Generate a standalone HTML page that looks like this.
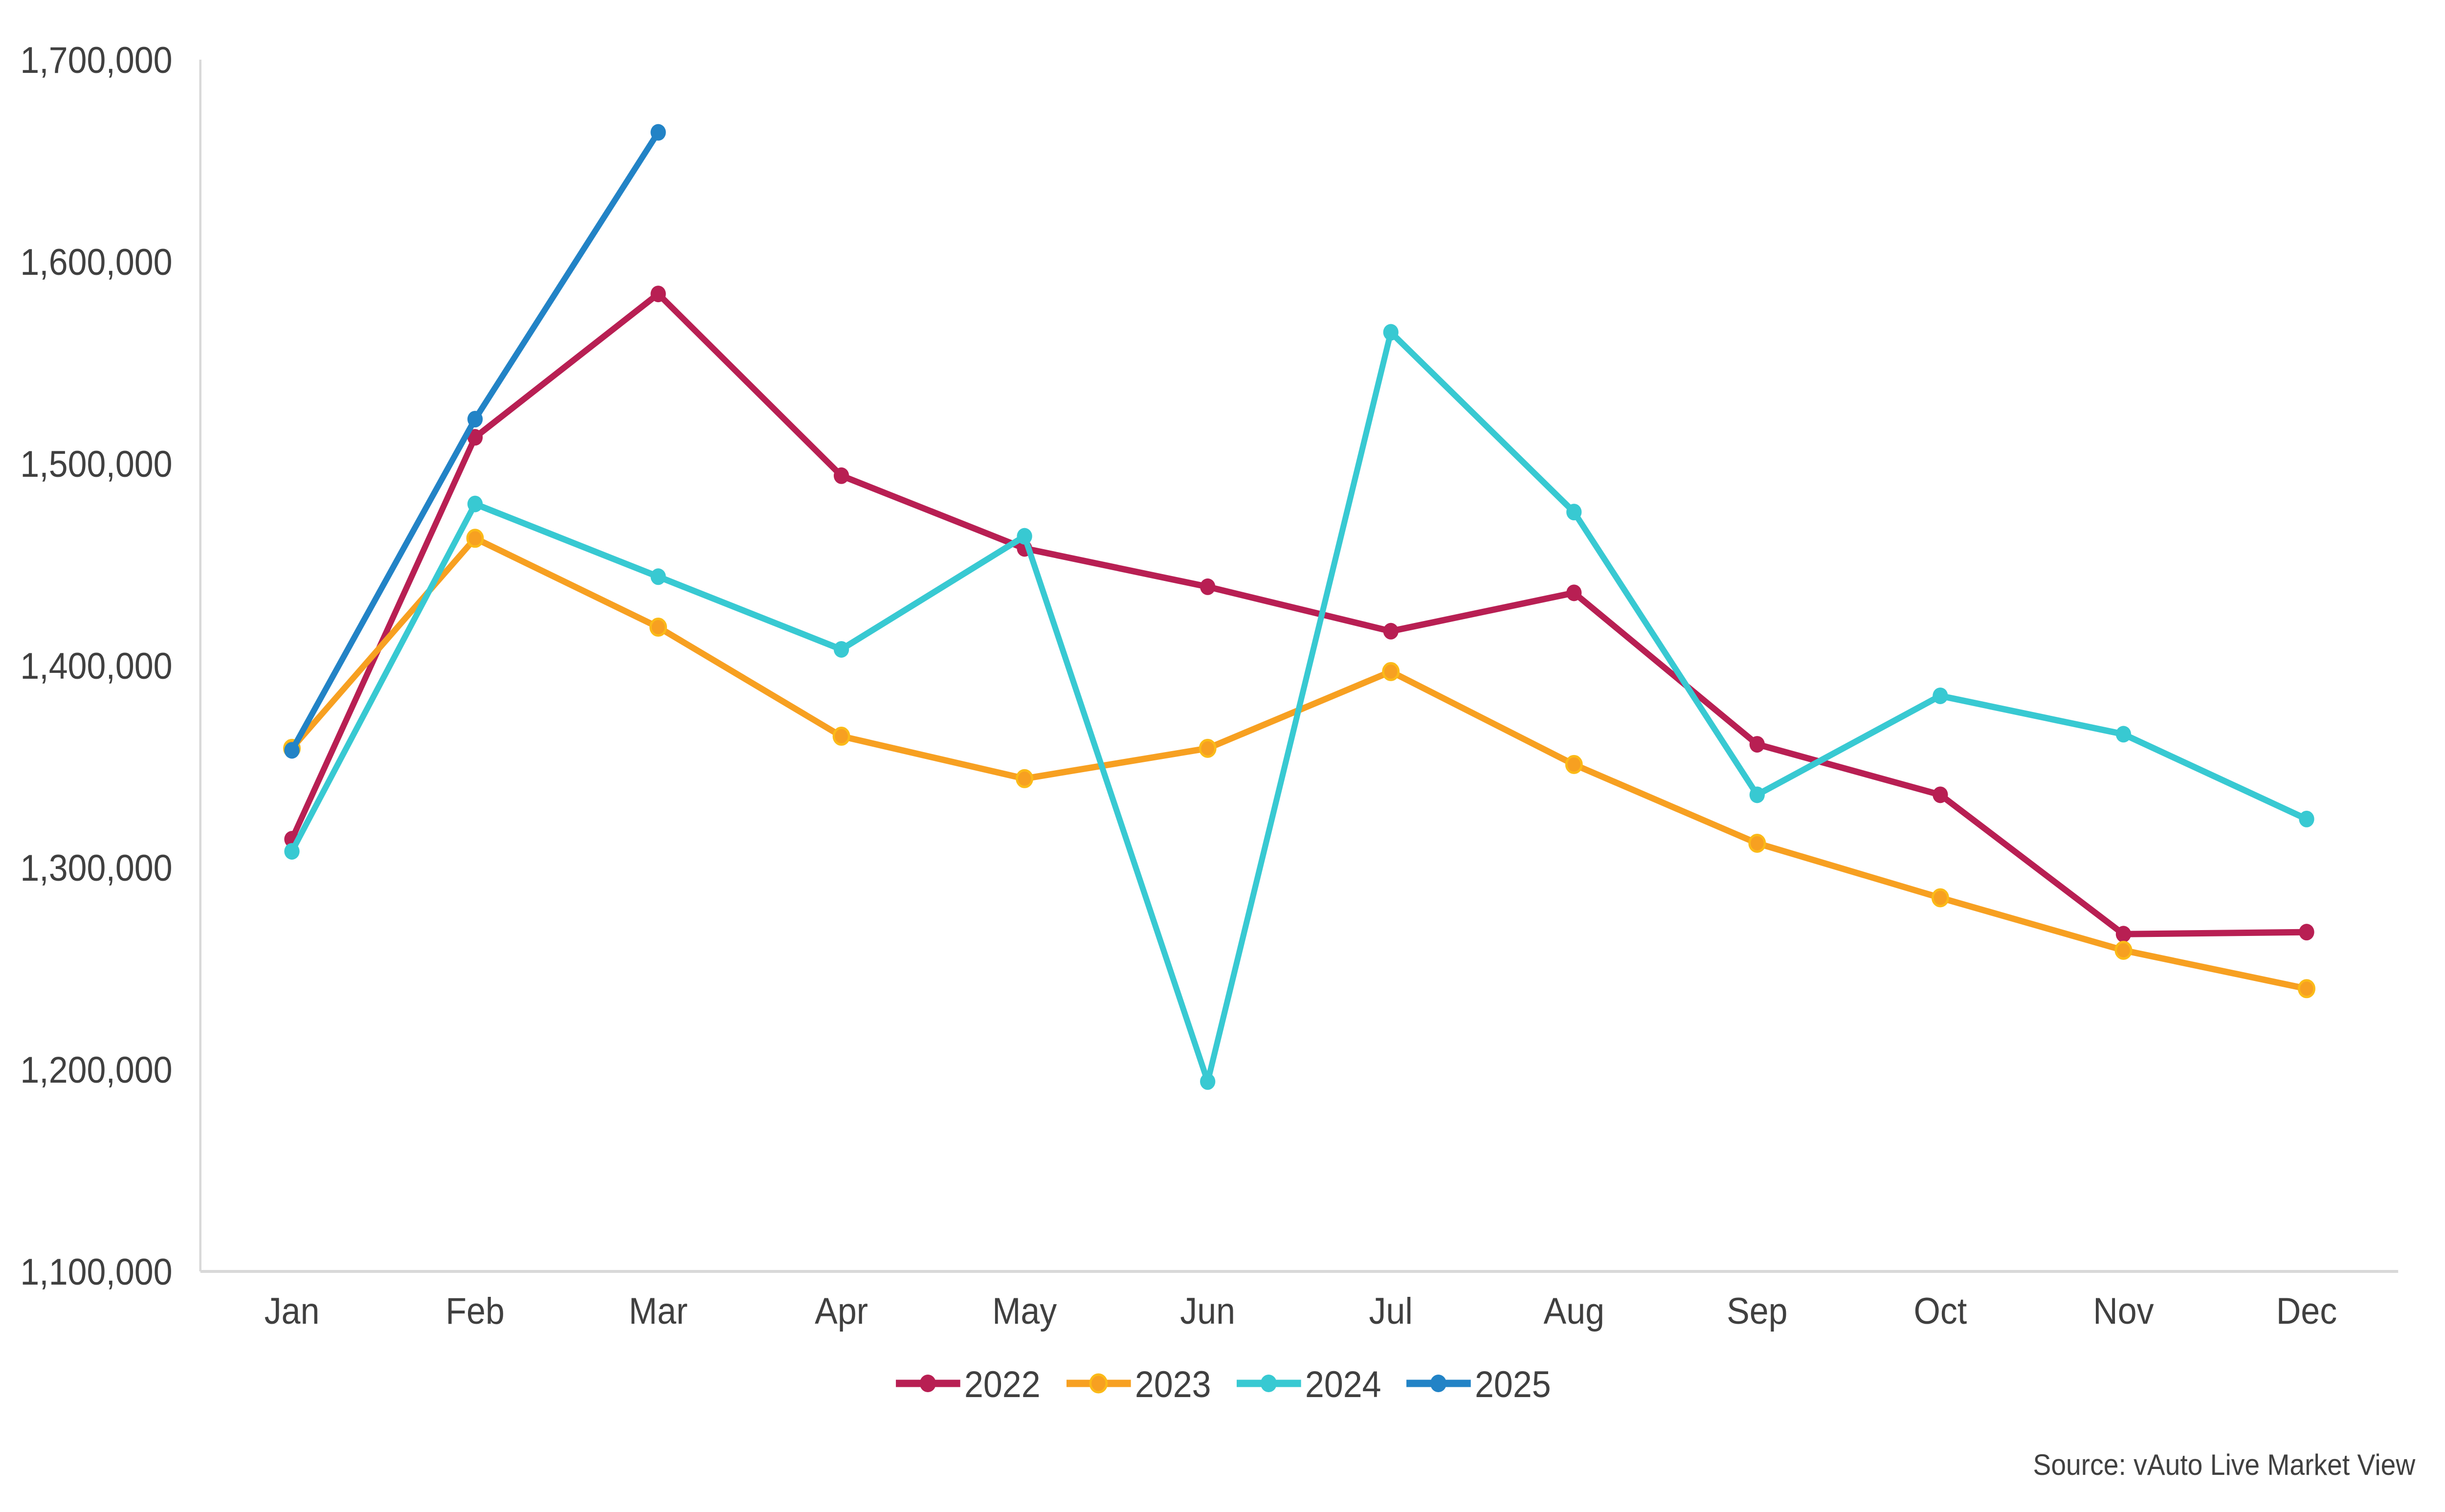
<!DOCTYPE html>
<html><head><meta charset="utf-8"><style>
html,body{margin:0;padding:0;background:#fff;width:100%;height:100%;overflow:hidden}
svg{display:block;width:100vw;height:100vh}
text{font-family:"Liberation Sans",sans-serif;fill:#404040}
</style></head><body>
<svg id="chart" viewBox="0 0 5431 3092" preserveAspectRatio="none" xmlns="http://www.w3.org/2000/svg">
<g id="axes"></g>
<g id="series"></g>
<g id="legend"></g>
<text x="5365" y="3016" font-size="60" text-anchor="end">Source: vAuto Live Market View</text>
</svg>
<script>
const months = ["Jan","Feb","Mar","Apr","May","Jun","Jul","Aug","Sep","Oct","Nov","Dec"];
const yTicks = [1100000,1200000,1300000,1400000,1500000,1600000,1700000];
const seriesNames = ["2022","2023","2024","2025"];
const s2022 = [1314000,1513000,1584000,1494000,1458000,1439000,1417000,1436000,1361000,1336000,1267000,1268000];
const s2023 = [1359000,1463000,1419000,1365000,1344000,1359000,1397000,1351000,1312000,1285000,1259000,1240000];
const s2024 = [1308000,1480000,1444000,1408000,1464000,1194000,1565000,1476000,1336000,1385000,1366000,1324000];
const s2025 = [1358000,1522000,1664000];
const colors = ["#B81F53","#F7A021","#38C9D2","#2283C6"];

const NS="http://www.w3.org/2000/svg";
const L=445,R=5327,T=122,B=2600,yMin=1100000,yMax=1700000;
const band=(R-L)/months.length;
const x=i=>L+band*(i+0.5);
const y=v=>B-(v-yMin)/(yMax-yMin)*(B-T);
function mk(tag,parent){const e=document.createElementNS(NS,tag);parent.appendChild(e);return e;}
const axes=document.getElementById('axes');
let a=mk('line',axes);


a.setAttribute('x1',L);a.setAttribute('x2',L);a.setAttribute('y1',T);a.setAttribute('y2',B);a.setAttribute('stroke','#d9d9d9');a.setAttribute('stroke-width','5');
a=mk('line',axes);


a.setAttribute('x1',L);a.setAttribute('x2',R);a.setAttribute('y1',B);a.setAttribute('y2',B);a.setAttribute('stroke','#d9d9d9');a.setAttribute('stroke-width','6');
yTicks.forEach(v=>{const t=mk('text',axes);


t.setAttribute('x',383);t.setAttribute('y',y(v)+27);t.setAttribute('font-size','76');t.setAttribute('text-anchor','end');t.textContent=v.toLocaleString('en-US');});
months.forEach((m,i)=>{const t=mk('text',axes);


t.setAttribute('x',x(i));t.setAttribute('y',2707);t.setAttribute('font-size','76');t.setAttribute('text-anchor','middle');t.textContent=m;});
const sg=document.getElementById('series');
[s2022,s2023,s2024,s2025].forEach((d,k)=>{
 const g=mk('g',sg);
 
 
 const p=mk('polyline',g);
 
 
 p.setAttribute('points',d.map((v,i)=>x(i)+','+y(v)).join(' '));
 p.setAttribute('fill','none');p.setAttribute('stroke',colors[k]);p.setAttribute('stroke-width','13');p.setAttribute('stroke-linejoin','round');
 d.forEach((v,i)=>{const c=mk('circle',g);
  
  
  c.setAttribute('cx',x(i));c.setAttribute('cy',y(v));c.setAttribute('r','17');c.setAttribute('fill',colors[k]);
  if(k===1){c.setAttribute('stroke','#FBBA18');c.setAttribute('stroke-width','5');}});
});
const lg=document.getElementById('legend');
const lx=[1990,2369,2747,3124];
seriesNames.forEach((n,k)=>{
 const g=mk('g',lg);
 
 
 const l=mk('line',g);
 
 
 l.setAttribute('x1',lx[k]);l.setAttribute('x2',lx[k]+143);l.setAttribute('y1',2829);l.setAttribute('y2',2829);l.setAttribute('stroke',colors[k]);l.setAttribute('stroke-width','15');
 const c=mk('circle',g);
 
 
 c.setAttribute('cx',lx[k]+71);c.setAttribute('cy',2829);c.setAttribute('r','18');c.setAttribute('fill',colors[k]);
 if(k===1){c.setAttribute('stroke','#FBBA18');c.setAttribute('stroke-width','5');}
 const t=mk('text',g);
 
 
 t.setAttribute('x',lx[k]+152);t.setAttribute('y',2857);t.setAttribute('font-size','76');t.textContent=n;
});
</script>
</body></html>
